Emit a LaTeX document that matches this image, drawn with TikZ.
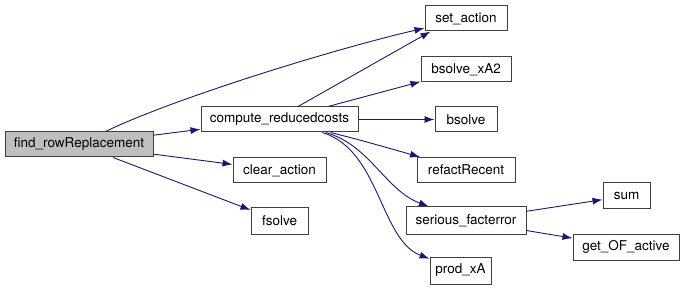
\documentclass[tikz,border=0pt]{standalone}
\usepackage{fontspec}
\setmainfont{TeX Gyre Heros}
\usetikzlibrary{arrows.meta}
\definecolor{edgeblue}{RGB}{25,25,112}
\tikzset{
	fn/.style={draw=black!75, line width=1pt, minimum height=25pt, inner sep=0pt, font=\fontsize{13.5}{15}\selectfont},
	call/.style={draw=edgeblue, line width=0.9pt, -{Latex[length=10pt,width=7pt]}, fill=none},
}

\begin{document}
\begin{tikzpicture}[x=1pt, y=-1pt]
	\useasboundingbox (0,0) rectangle (685,291);
	\node (find)[fn, fill=black!25, minimum width=148pt] at (79,144.5) {find\_rowReplacement};
	\node (comp)[fn, minimum width=157pt] at (279.5,119.5) {compute\_reducedcosts};
	\node (clear)[fn, minimum width=93pt] at (279.5,170.5) {clear\_action};
	\node (fsolve)[fn, minimum width=57pt, minimum height=26pt] at (279.5,221) {fsolve};
	\node (set)[fn, minimum width=82pt] at (466,18.5) {set\_action};
	\node (bsolvexa)[fn, minimum width=90pt] at (466,69.5) {bsolve\_xA2};
	\node (bsolve)[fn, minimum width=62pt] at (466,119.5) {bsolve};
	\node (refact)[fn, minimum width=98pt] at (466,170) {refactRecent};
	\node (serious)[fn, minimum width=120pt, minimum height=27pt] at (466,220.5) {serious\_facterror};
	\node (prod)[fn, minimum width=61pt, minimum height=27pt] at (460.5,270.5) {prod\_xA};
	\node (sum)[fn, minimum width=47pt, minimum height=26pt] at (626.5,196) {sum};
	\node (getof)[fn, minimum width=106pt, minimum height=26pt] at (626,247) {get\_OF\_active};
	\draw[call] (find) .. controls (170,100) and (330,50) .. (set);
	\draw[call] (find) -- (comp);
	\draw[call] (find) -- (clear);
	\draw[call] (find) -- (fsolve);
	\draw[call] ([xshift=18.5pt]comp.north) -- ([xshift=6pt]set.south west);
	\draw[call] (comp) -- (bsolvexa);
	\draw[call] (comp) -- (bsolve);
	\draw[call] (comp) .. controls (360,140) .. (refact);
	\draw[call] (comp) .. controls (370,145) and (385,190) .. (serious);
	\draw[call] (comp) .. controls (380,150) and (380,240) .. (prod);
	\draw[call] (serious) -- (sum);
	\draw[call] (serious) -- (getof);
\end{tikzpicture}
\end{document}
